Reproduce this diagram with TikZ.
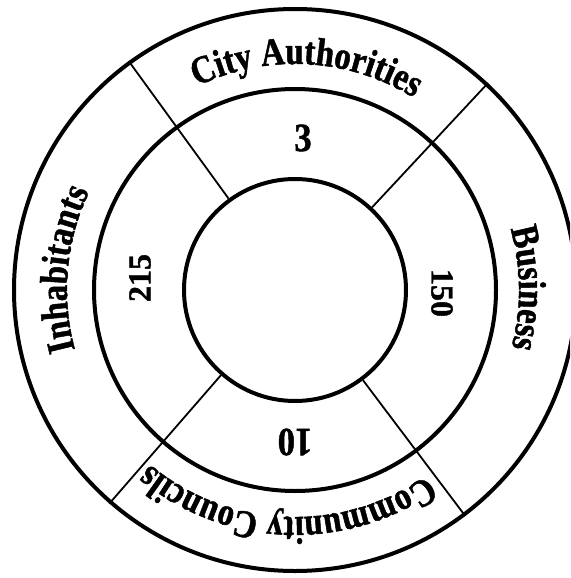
\documentclass[tikz,border=0pt]{standalone}
\usepackage{fontspec}
\usetikzlibrary{decorations.text}
\newfontfamily\lblfont[FakeStretch=0.84,FakeBold=1.2]{Liberation Serif}
\newfontfamily\topnumfont[FakeStretch=0.86,FakeBold=1.2]{Liberation Serif}
\newfontfamily\sidenumfont[FakeBold=1.2]{Liberation Serif}
\newcommand{\lblf}{\lblfont\bfseries\fontsize{39}{43}\selectfont}
\newcommand{\numf}{\topnumfont\bfseries\fontsize{40}{44}\selectfont}
\newcommand{\numsf}{\sidenumfont\bfseries\fontsize{32}{36}\selectfont}
\begin{document}
\begin{tikzpicture}[x=1pt,y=1pt,
  ring/.style={draw=black, line width=4pt, circle, inner sep=0pt},
  divider/.style={draw=black, line width=1.8pt},
  num/.style={font=\numf, inner sep=0pt},
  numside/.style={font=\numsf, inner sep=0pt},
  arctext/.style={decorate, decoration={text along path, text align=center, text={|\lblf|#1}}}]
\useasboundingbox (0,0) rectangle (570,-578);
\clip (0,0) rectangle (570,-578);
\coordinate (C) at (295,-290);
% rings
\node[ring, minimum size=562pt] (outer) at (C) {};
\node[ring, minimum size=402pt] (middle) at (C) {};
\node[ring, minimum size=222pt] (inner) at (C) {};
% dividers
\draw[divider] (inner.126) -- (outer.126);
\draw[divider] (inner.47) -- (outer.47);
\draw[divider] (inner.229.5) -- (outer.229.5);
\draw[divider] (inner.307.8) -- (outer.307.8);
% curved labels
\path[arctext={City Authorities}] ([shift={(147:226)}]C) arc[start angle=147, end angle=27, radius=226];
\path[arctext={Business}] ([shift={(60.5:224)}]C) arc[start angle=60.5, end angle=-59.5, radius=224];
\path[arctext={Inhabitants}] ([shift={(234.8:228)}]C) arc[start angle=234.8, end angle=114.8, radius=228];
\path[arctext={Community Councils}] ([shift={(327.75:227)}]C) arc[start angle=327.75, end angle=207.75, radius=227];
% numbers
\node[num] (n3) at (303,-138) {3};
\node[num, rotate=180] (n10) at (295,-442) {10};
\node[numside, rotate=90] (n215) at (140,-278) {215};
\node[numside, rotate=-90] (n150) at (442,-293) {150};
\end{tikzpicture}
\end{document}
